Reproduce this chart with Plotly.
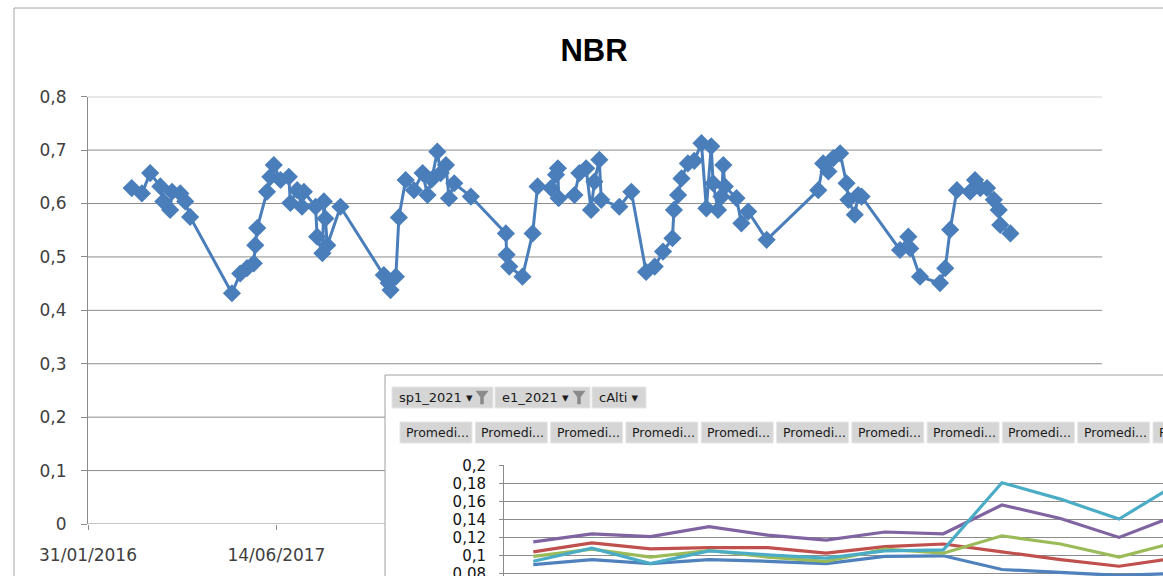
import plotly.graph_objects as go

W, H = 1163, 576

# ---------------- data: main NBR series ----------------
nbr_dates = [
    "2016-05-26", "2016-06-22", "2016-07-14", "2016-08-10", "2016-08-18", "2016-09-05",
    "2016-09-10", "2016-10-02", "2016-10-15", "2016-10-28", "2017-02-16", "2017-03-10",
    "2017-03-28", "2017-04-15", "2017-04-19", "2017-04-24", "2017-05-20", "2017-05-29",
    "2017-06-07", "2017-06-25", "2017-07-17", "2017-07-21", "2017-08-08", "2017-08-21",
    "2017-08-26", "2017-09-26", "2017-09-30", "2017-10-14", "2017-10-18", "2017-10-22",
    "2017-10-27", "2017-12-01", "2018-03-26", "2018-04-08", "2018-04-13", "2018-04-27",
    "2018-05-05", "2018-05-23", "2018-06-14", "2018-07-07", "2018-07-20", "2018-07-31",
    "2018-08-15", "2018-08-24", "2018-09-07", "2018-09-15", "2018-09-29", "2018-11-12",
    "2019-02-13", "2019-02-15", "2019-02-22", "2019-03-29", "2019-04-25", "2019-05-08",
    "2019-06-13", "2019-06-26", "2019-07-01", "2019-07-03", "2019-08-14", "2019-08-27",
    "2019-09-14", "2019-09-27", "2019-10-06", "2019-10-19", "2019-10-24", "2019-12-11",
    "2020-01-12", "2020-02-20", "2020-03-14", "2020-04-05", "2020-04-30", "2020-05-04",
    "2020-05-15", "2020-05-24", "2020-06-10", "2020-06-27", "2020-07-16", "2020-07-29",
    "2020-08-11", "2020-08-16", "2020-08-29", "2020-09-07", "2020-09-12", "2020-09-16",
    "2020-10-17", "2020-10-30", "2020-11-17", "2021-01-05", "2021-05-22", "2021-06-04",
    "2021-06-18", "2021-07-01", "2021-07-19", "2021-08-05", "2021-08-10", "2021-08-27",
    "2021-09-05", "2021-09-14", "2021-12-25", "2022-01-16", "2022-01-21", "2022-02-16",
    "2022-04-10", "2022-04-24", "2022-05-07", "2022-05-25", "2022-06-29", "2022-07-12",
    "2022-07-26", "2022-08-13", "2022-08-31", "2022-09-13", "2022-09-17", "2022-10-14",
]
nbr_values = [
    0.629, 0.619, 0.657, 0.632, 0.604, 0.588,
    0.622, 0.619, 0.604, 0.575, 0.432, 0.469,
    0.479, 0.488, 0.522, 0.554, 0.622, 0.650,
    0.672, 0.644, 0.650, 0.601, 0.625, 0.594,
    0.622, 0.594, 0.538, 0.507, 0.604, 0.572,
    0.522, 0.594, 0.466, 0.451, 0.438, 0.463,
    0.574, 0.644, 0.625, 0.657, 0.616, 0.645,
    0.697, 0.657, 0.672, 0.610, 0.638, 0.613,
    0.544, 0.504, 0.482, 0.463, 0.544, 0.632,
    0.629, 0.654, 0.666, 0.610, 0.616, 0.657,
    0.666, 0.588, 0.641, 0.682, 0.607, 0.594,
    0.622, 0.472, 0.482, 0.510, 0.535, 0.588,
    0.616, 0.647, 0.675, 0.680, 0.713, 0.591,
    0.707, 0.638, 0.588, 0.613, 0.672, 0.632,
    0.610, 0.563, 0.585, 0.532, 0.625, 0.675,
    0.660, 0.685, 0.694, 0.638, 0.607, 0.579,
    0.616, 0.613, 0.513, 0.538, 0.516, 0.463,
    0.451, 0.479, 0.551, 0.625, 0.622, 0.644,
    0.629, 0.629, 0.607, 0.588, 0.560, 0.544,
]
main_x_range = ["2016-01-31", "2023-06-14"]
main_xtick_vals = ["2016-01-31", "2017-06-14"]
main_xtick_text = ["31/01/2016", "14/06/2017"]
main_ytick_vals = [0, 0.1, 0.2, 0.3, 0.4, 0.5, 0.6, 0.7, 0.8]

# ---------------- data: overlaid pivot chart ----------------
pivot_cats = ["1", "2", "3", "4", "5", "6", "7", "8", "9", "10", "11", "12"]
pivot_blue = [0.0898, 0.0953, 0.0909, 0.0953, 0.0935, 0.0909, 0.0989, 0.0996, 0.0844, 0.0815, 0.0778, 0.0800]
pivot_red = [0.104, 0.114, 0.1073, 0.1087, 0.1087, 0.1025, 0.1098, 0.1127, 0.104, 0.0953, 0.088, 0.0973]
pivot_green = [0.0989, 0.1069, 0.0982, 0.1055, 0.0982, 0.0935, 0.1069, 0.1025, 0.1218, 0.1127, 0.0982, 0.115]
pivot_purple = [0.115, 0.124, 0.121, 0.132, 0.1225, 0.117, 0.126, 0.124, 0.156, 0.141, 0.120, 0.145]
pivot_cyan = [0.0935, 0.108, 0.0909, 0.1051, 0.1007, 0.0971, 0.1051, 0.1062, 0.1807, 0.1625, 0.1404, 0.180]
pivot_ytick_vals = [0.08, 0.1, 0.12, 0.14, 0.16, 0.18, 0.2]
filter_labels = ["sp1_2021 \u25be", "e1_2021 \u25be", "cAlti \u25be"]
value_button_labels = ["Promedi..."] * 11


def fx(px):
    return px / W


def fy(py):
    return 1 - py / H


GRID = "#8c8c8c"
BLUE = "#4a7ebb"

fig = go.Figure()

fig.add_trace(go.Scatter(
    x=nbr_dates, y=nbr_values, mode="lines+markers",
    line=dict(color=BLUE, width=3),
    marker=dict(symbol="diamond", size=14, color=BLUE),
    xaxis="x", yaxis="y", showlegend=False, hoverinfo="x+y",
))

pivot_series = [
    (pivot_blue, "#4f81bd"),
    (pivot_red, "#c0504d"),
    (pivot_green, "#9bbb59"),
    (pivot_purple, "#8064a2"),
    (pivot_cyan, "#4bacc6"),
]
for vals, col in pivot_series:
    fig.add_trace(go.Scatter(
        x=pivot_cats, y=vals, mode="lines",
        line=dict(color=col, width=3.2),
        xaxis="x2", yaxis="y2", showlegend=False, cliponaxis=True,
    ))

main_left, main_right = 88, 1102
overlay_left, overlay_top = 385, 375

shapes = []
# outer chart frame
shapes.append(dict(type="rect", xref="paper", yref="paper",
                   x0=fx(14), x1=fx(W + 10), y0=fy(H + 10), y1=fy(8),
                   line=dict(color="#a6a6a6", width=1), fillcolor="rgba(0,0,0,0)", layer="below"))
# main gridlines (lower ones hidden behind the pivot window)
for v in main_ytick_vals[1:]:
    right = main_right if v >= 0.3 else overlay_left
    shapes.append(dict(type="line", xref="paper", yref="y",
                       x0=fx(main_left), x1=fx(right), y0=v, y1=v,
                       line=dict(color=GRID, width=1), layer="below"))
# main x baseline
shapes.append(dict(type="line", xref="paper", yref="y",
                   x0=fx(main_left), x1=fx(overlay_left), y0=0, y1=0,
                   line=dict(color=GRID, width=1), layer="below"))
# pivot chart window
shapes.append(dict(type="rect", xref="paper", yref="paper",
                   x0=fx(overlay_left), x1=fx(W + 10), y0=fy(H + 10), y1=fy(overlay_top),
                   line=dict(color="#a0a0a0", width=1), fillcolor="white", layer="below"))

annotations = []
BTN_FILL = "#d5d5d5"
BTN_LINE = "#e6e6e6"
# filter buttons
filter_bounds = [(392, 493), (495, 590), (592, 646)]
for (x0, x1), lab in zip(filter_bounds, filter_labels):
    shapes.append(dict(type="rect", xref="paper", yref="paper",
                       x0=fx(x0), x1=fx(x1), y0=fy(408), y1=fy(387),
                       line=dict(color=BTN_LINE, width=1), fillcolor=BTN_FILL, layer="below"))
    annotations.append(dict(xref="paper", yref="paper", x=fx(x0 + 5), y=fy(397.5),
                            text=lab, showarrow=False, xanchor="left", yanchor="middle",
                            font=dict(family="DejaVu Sans", size=13, color="#1a1a1a")))
# funnel icons on the first two filter buttons
for xc in (482, 579):
    shapes.append(dict(type="path", xref="paper", yref="paper",
                       path=(f"M {fx(xc-6)},{fy(391)} L {fx(xc+6)},{fy(391)} L {fx(xc+1.5)},{fy(397)} "
                             f"L {fx(xc+1.5)},{fy(404)} L {fx(xc-1.5)},{fy(404)} L {fx(xc-1.5)},{fy(397)} Z"),
                       fillcolor="#8a8a8a", line=dict(color="#8a8a8a", width=0.5), layer="below"))

# value-field buttons
bx0, pitch, bw = 400, 75.3, 72
for i, lab in enumerate(value_button_labels):
    x0 = bx0 + i * pitch
    shapes.append(dict(type="rect", xref="paper", yref="paper",
                       x0=fx(x0), x1=fx(x0 + bw), y0=fy(443), y1=fy(422),
                       line=dict(color=BTN_LINE, width=1), fillcolor=BTN_FILL, layer="below"))
    annotations.append(dict(xref="paper", yref="paper", x=fx(x0 + 4), y=fy(432.5),
                            text=lab, showarrow=False, xanchor="left", yanchor="middle",
                            font=dict(family="DejaVu Sans", size=12.5, color="#1a1a1a")))

fig.update_layout(
    width=W, height=H,
    margin=dict(l=0, r=0, t=0, b=0, pad=0, autoexpand=False),
    paper_bgcolor="white", plot_bgcolor="rgba(0,0,0,0)",
    separators=",.",
    title=dict(text="<b>NBR</b>", x=fx(594), xanchor="center", y=fy(50), yanchor="middle",
               font=dict(family="Liberation Sans", size=31, color="#000000")),
    xaxis=dict(type="date", range=main_x_range, domain=[fx(main_left), fx(main_right)],
               tickvals=main_xtick_vals, ticktext=main_xtick_text,
               ticks="outside", ticklen=5, tickcolor=GRID, showgrid=False, showline=False,
               zeroline=False, ticklabelstandoff=11, automargin=False,
               tickfont=dict(family="DejaVu Sans", size=17, color="#404040")),
    yaxis=dict(range=[0, 0.8], domain=[fy(524), fy(96.7)], tickvals=main_ytick_vals,
               ticks="outside", ticklen=6, tickcolor=GRID, showgrid=False, zeroline=False,
               showline=True, linecolor=GRID, linewidth=1, ticklabelstandoff=11, automargin=False,
               tickfont=dict(family="DejaVu Sans", size=17, color="#404040")),
    xaxis2=dict(type="category", categoryorder="array", categoryarray=pivot_cats,
                range=[-0.5, 10.75], domain=[fx(504), 1], anchor="y2", automargin=False,
                showticklabels=False, showgrid=False, zeroline=False, showline=False, ticks=""),
    yaxis2=dict(range=[0.0772, 0.2], domain=[0, fy(465.3)], anchor="x2", automargin=False,
                tickvals=pivot_ytick_vals, ticks="outside", ticklen=4, tickcolor=GRID,
                showgrid=True, gridcolor=GRID, gridwidth=1, zeroline=False,
                showline=True, linecolor=GRID, linewidth=1, ticklabelstandoff=10,
                ticklabeloverflow="allow",
                tickfont=dict(family="DejaVu Sans", size=15, color="#111111")),
    shapes=shapes,
    annotations=annotations,
)

fig.write_html(
    "out.html",
    config={"displayModeBar": False},
    post_script="document.body.style.margin='0px';document.body.style.padding='0px';",
)
